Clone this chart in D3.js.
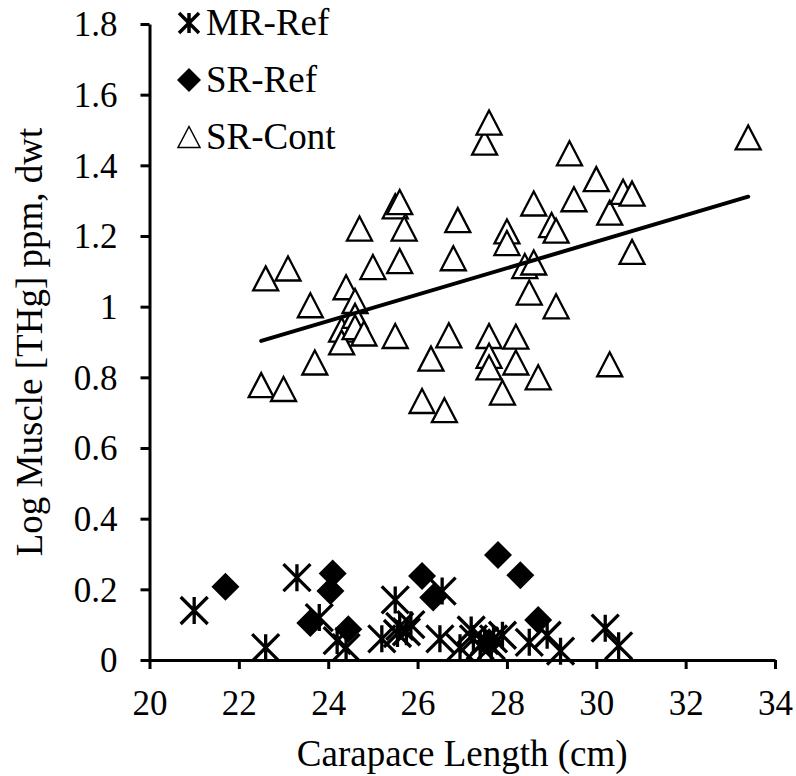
<!DOCTYPE html>
<html>
<head>
<meta charset="utf-8">
<script src="https://cdn.jsdelivr.net/npm/d3@7"></script>
<style>
body { margin: 0; background: #fff; }
svg text { font-family: "Liberation Serif", "Times New Roman", serif !important; fill: #000; }
</style>
</head>
<body>
<div id="chart"></div>
<script>
// axis ticks
const xTicks = [20, 22, 24, 26, 28, 30, 32, 34];
const yTicks = [0, 0.2, 0.4, 0.6, 0.8, 1, 1.2, 1.4, 1.6, 1.8];
const yTickLabels = ["0", "0.2", "0.4", "0.6", "0.8", "1", "1.2", "1.4", "1.6", "1.8"];

// MR-Ref (asterisks)
const mrRefX = [21.0, 22.6, 23.3, 23.8, 24.2, 24.4, 25.2, 25.5, 25.6, 25.85, 25.55, 25.75,
    26.55, 26.5, 26.95, 27.2, 27.25, 27.5, 27.65, 27.9, 28.5, 28.9, 29.2, 30.2, 30.5, 27.4, 27.7];
const mrRefY = [0.14, 0.035, 0.233, 0.12, 0.055, 0.035, 0.06, 0.17, 0.095, 0.1, 0.075, 0.08,
    0.195, 0.06, 0.035, 0.085, 0.06, 0.055, 0.04, 0.07, 0.05, 0.07, 0.025, 0.09, 0.04, 0.04, 0.06];

// SR-Ref (diamonds)
const srRefX = [21.7, 23.6, 24.1, 24.05, 24.45, 26.1, 26.35, 27.6, 27.8, 28.3, 28.7];
const srRefY = [0.207, 0.105, 0.245, 0.195, 0.087, 0.238, 0.177, 0.05, 0.297, 0.24, 0.113];

// SR-Cont (triangles)
const srContX = [22.5, 22.6, 23.0, 23.1, 23.6, 23.7, 24.3, 24.3, 24.4, 24.6, 24.6, 24.6, 24.8,
    24.7, 25.0, 25.5, 25.5, 25.6, 25.6, 25.7, 26.1, 26.3, 26.6, 26.7, 26.8, 26.9, 27.5, 27.6,
    27.6, 27.6, 27.6, 27.9, 28.0, 28.0, 28.2, 28.2, 28.4, 28.6, 28.5, 28.6, 28.7, 29.0, 29.1,
    29.1, 29.4, 29.5, 30.0, 30.3, 30.3, 30.6, 30.8, 30.8, 33.4];
const srContY = [0.778, 1.080, 0.767, 1.108, 1.004, 0.842, 0.935, 0.899, 1.055, 1.016, 0.974,
    0.942, 0.924, 1.221, 1.112, 0.917, 1.284, 1.296, 1.129, 1.221, 0.733, 0.853, 0.707, 0.919,
    1.137, 1.245, 1.464, 1.521, 0.917, 0.861, 0.828, 0.757, 1.213, 1.180, 0.915, 0.842, 1.115,
    1.125, 1.040, 1.292, 0.800, 1.231, 1.215, 1.001, 1.434, 1.304, 1.361, 1.266, 0.837, 1.325,
    1.320, 1.155, 1.479];

// linear trend of SR-Cont
const trendSlope = 0.03745;
const trendIntercept = 0.0604;

const seriesNames = ["MR-Ref", "SR-Ref", "SR-Cont"];

const serif = "Liberation Serif, Times New Roman, serif";
const width = 796, height = 776;
const svg = d3.select("#chart").append("svg")
    .attr("width", width)
    .attr("height", height)
    .attr("font-family", serif)
    .style("display", "block");

const xScale = d3.scaleLinear().domain([20, 34]).range([149.5, 775]);
const yScale = d3.scaleLinear().domain([0, 1.8]).range([660, 24]);

// marker shapes
function asteriskPath(s) {
    return `M${-s},${-s}L${s},${s}M${-s},${s}L${s},${-s}M0,${-s}L0,${s}`;
}
function diamondPath(s) {
    return `M0,${-s}L${s},0L0,${s}L${-s},0Z`;
}
function trianglePath(w, h) {
    return `M0,${-h / 2}L${w / 2},${h / 2}L${-w / 2},${h / 2}Z`;
}

// x-axis
const xAxis = svg.append("g")
    .attr("transform", `translate(0, ${yScale(0)})`)
    .call(d3.axisBottom(xScale).tickValues(xTicks).tickSize(9).tickSizeOuter(0));
xAxis.attr("font-family", serif).attr("font-size", 35);
xAxis.select(".domain").attr("stroke", "#000").attr("stroke-width", 3);
xAxis.selectAll(".tick line").attr("stroke", "#000").attr("stroke-width", 3);
xAxis.selectAll(".tick text")
    .attr("y", 55).attr("dy", 0)
    .attr("font-family", serif)
    .style("font-size", "35px");

// y-axis
const yAxis = svg.append("g")
    .attr("transform", `translate(${xScale(20)}, 0)`)
    .call(d3.axisLeft(yScale).tickValues(yTicks).tickSize(9).tickSizeOuter(0)
        .tickFormat(function (d, i) { return yTickLabels[i]; }));
yAxis.attr("font-family", serif).attr("font-size", 35);
yAxis.select(".domain").attr("stroke", "#000").attr("stroke-width", 3);
yAxis.selectAll(".tick line").attr("stroke", "#000").attr("stroke-width", 3);
yAxis.selectAll(".tick text")
    .attr("x", -32).attr("dy", "0.34em")
    .attr("font-family", serif)
    .style("font-size", "35px");

// axis titles
svg.append("text")
    .attr("x", (xScale(20) + xScale(34)) / 2)
    .attr("y", 766)
    .attr("text-anchor", "middle")
    .style("font-size", "37px")
    .text("Carapace Length (cm)");

svg.append("text")
    .attr("transform", `translate(42, ${(yScale(0) + yScale(1.8)) / 2}) rotate(-90)`)
    .attr("text-anchor", "middle")
    .style("font-size", "37px")
    .text("Log Muscle [THg] ppm, dwt");

// MR-Ref points
svg.append("g").selectAll("path")
    .data(d3.zip(mrRefX, mrRefY))
    .join("path")
    .attr("d", asteriskPath(13.5))
    .attr("transform", function (d) { return `translate(${xScale(d[0])}, ${yScale(d[1])})`; })
    .attr("fill", "none")
    .attr("stroke", "#000")
    .attr("stroke-width", 3.3);

// SR-Ref points
svg.append("g").selectAll("path")
    .data(d3.zip(srRefX, srRefY))
    .join("path")
    .attr("d", diamondPath(14))
    .attr("transform", function (d) { return `translate(${xScale(d[0])}, ${yScale(d[1])})`; })
    .attr("fill", "#000");

// SR-Cont points
svg.append("g").selectAll("path")
    .data(d3.zip(srContX, srContY))
    .join("path")
    .attr("d", trianglePath(25, 24))
    .attr("transform", function (d) { return `translate(${xScale(d[0])}, ${yScale(d[1])})`; })
    .attr("fill", "#fff")
    .attr("stroke", "#000")
    .attr("stroke-width", 2.3);

// trend line
const trendDomain = d3.extent(srContX);
svg.append("path")
    .datum(trendDomain.map(function (x) { return [x, trendIntercept + trendSlope * x]; }))
    .attr("fill", "none")
    .attr("stroke", "#000")
    .attr("stroke-width", 4)
    .attr("stroke-linecap", "round")
    .attr("d", d3.line()
        .x(function (d) { return xScale(d[0]); })
        .y(function (d) { return yScale(d[1]); }));

// legend
const legend = svg.append("g").attr("transform", "translate(189, 0)");
const legendY = [23, 80, 137];
const legendShapes = [asteriskPath(10), diamondPath(12), trianglePath(22, 21)];
seriesNames.forEach(function (name, i) {
    const row = legend.append("g").attr("transform", `translate(0, ${legendY[i]})`);
    const mark = row.append("path").attr("d", legendShapes[i]);
    if (i == 0) {
        mark.attr("fill", "none").attr("stroke", "#000").attr("stroke-width", 3.5);
    } else if (i == 1) {
        mark.attr("fill", "#000");
    } else {
        mark.attr("fill", "#fff").attr("stroke", "#000").attr("stroke-width", 1.5);
    }
    row.append("text")
        .attr("x", 17)
        .attr("y", 12)
        .style("font-size", "37px")
        .text(name);
});
</script>
</body>
</html>
